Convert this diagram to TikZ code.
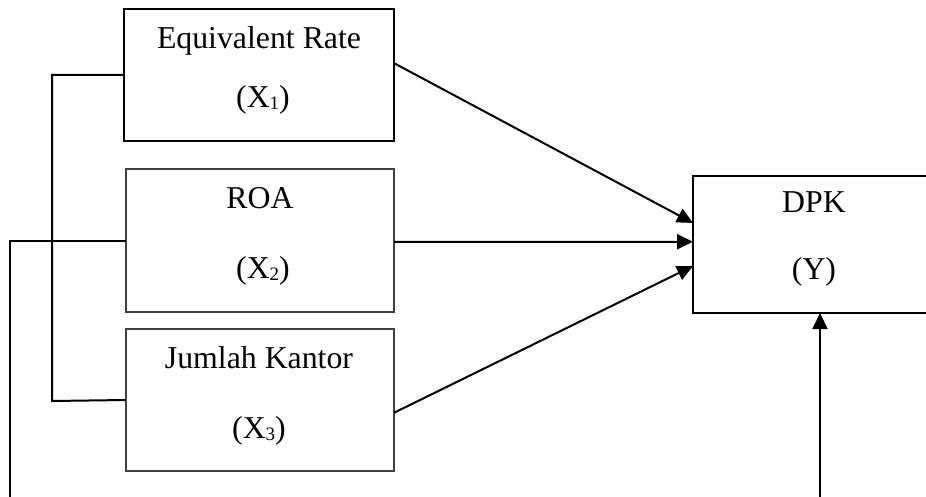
\documentclass[tikz,border=0pt]{standalone}
\usepackage{fontspec}
\setmainfont{Liberation Serif}
\usetikzlibrary{arrows.meta,calc}
\newcommand{\subidx}[1]{\raisebox{-2pt}{\fontsize{19}{19}\selectfont #1}}
\begin{document}
\begin{tikzpicture}[x=1pt,y=-1pt,
  varbox/.style={draw=black,line width=2pt,minimum width=#1,inner sep=0pt,outer sep=0pt},
  lbl/.style={anchor=base,inner sep=0pt,font=\fontsize{31.8}{38}\selectfont},
  wire/.style={line width=2pt},
  arr/.style={line width=2pt,-{Triangle[length=16pt,width=15pt]}}]
\useasboundingbox (0,0) rectangle (926,497);
\clip (0,0) rectangle (926,497);

% variable boxes
\node[varbox=270pt,minimum height=132pt,line width=2.3pt] (X1) at (259,75) {};
\node[varbox=268pt,minimum height=143pt,draw=black!75] (X2) at (260,240.5) {};
\node[varbox=268pt,minimum height=142pt,draw=black!75] (X3) at (260,400) {};
\node[varbox=247pt,minimum height=137pt,line width=2.3pt] (Y) at (816.5,244.5) {};

% box labels
\node[lbl] (t1a) at (259,49) {Equivalent Rate};
\node[lbl] (t1b) at (263,108) {(X\subidx{1})};
\node[lbl] (t2a) at (260,208) {ROA};
\node[lbl] (t2b) at (263,278) {(X\subidx{2})};
\node[lbl] (t3a) at (259,368) {Jumlah Kantor};
\node[lbl] (t3b) at (259,438) {(X\subidx{3})};
\node[lbl] (tya) at (814,213) {DPK};
\node[lbl] (tyb) at (814,279) {(Y)};

% bracket joining the three predictors
\coordinate (bt) at (52,75);
\coordinate (bb) at (52,401);
\draw[wire] (X1.west) -- (bt) -- (bb) -- (X3.west);

% open line on the left
\coordinate (lt) at (10,240.5);
\coordinate (lb) at (10,500);
\draw[wire] (X2.west) -- (lt) -- (lb);

% arrows into DPK
\draw[arr] ($(X1.north east)!0.41!(X1.south east)$) -- ($(Y.north west)!0.343!(Y.south west)$);
\draw[arr] ($(X2.north east)!0.51!(X2.south east)$) -- ($(Y.north west)!0.48!(Y.south west)$);
\draw[arr] ($(X3.north east)!0.59!(X3.south east)$) -- ($(Y.north west)!0.657!(Y.south west)$);

% arrow from below into DPK
\coordinate (yb) at (820,500);
\draw[arr] (yb) -- (yb |- Y.south);
\end{tikzpicture}
\end{document}
